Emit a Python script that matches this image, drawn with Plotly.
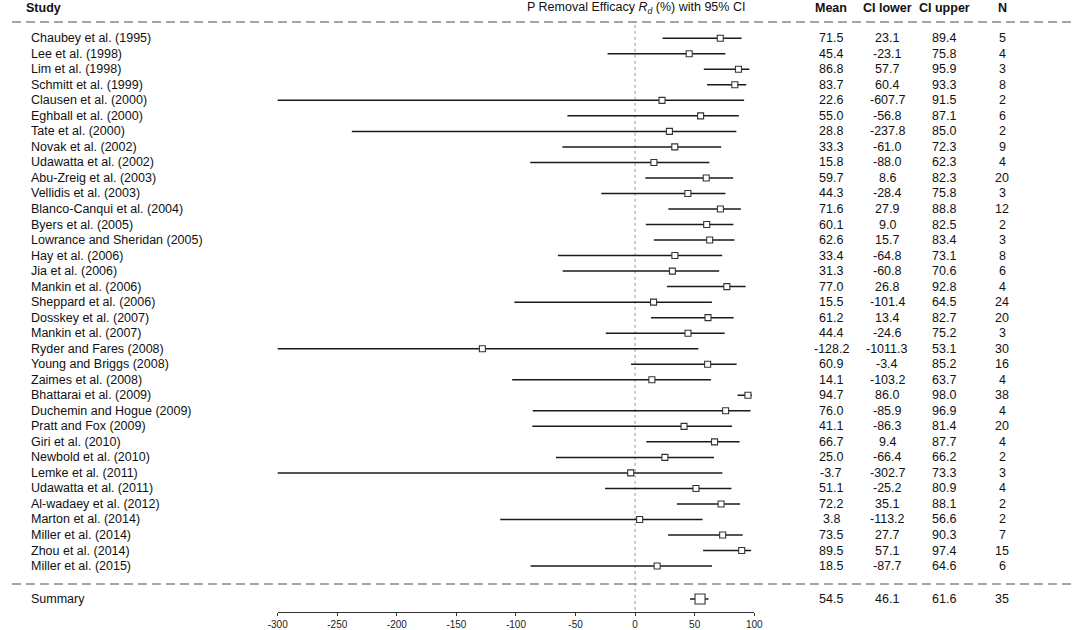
import plotly.graph_objects as go

# Data
studies = [
    "Chaubey et al. (1995)", "Lee et al. (1998)", "Lim et al. (1998)", "Schmitt et al. (1999)",
    "Clausen et al. (2000)", "Eghball et al. (2000)", "Tate et al. (2000)", "Novak et al. (2002)",
    "Udawatta et al. (2002)", "Abu-Zreig et al. (2003)", "Vellidis et al. (2003)",
    "Blanco-Canqui et al. (2004)", "Byers et al. (2005)", "Lowrance and Sheridan (2005)",
    "Hay et al. (2006)", "Jia et al. (2006)", "Mankin et al. (2006)", "Sheppard et al. (2006)",
    "Dosskey et al. (2007)", "Mankin et al. (2007)", "Ryder and Fares (2008)",
    "Young and Briggs (2008)", "Zaimes et al. (2008)", "Bhattarai et al. (2009)",
    "Duchemin and Hogue (2009)", "Pratt and Fox (2009)", "Giri et al. (2010)",
    "Newbold et al. (2010)", "Lemke et al. (2011)", "Udawatta et al. (2011)",
    "Al-wadaey et al. (2012)", "Marton et al. (2014)", "Miller et al. (2014)",
    "Zhou et al. (2014)", "Miller et al. (2015)",
]
mean = [71.5, 45.4, 86.8, 83.7, 22.6, 55.0, 28.8, 33.3, 15.8, 59.7, 44.3, 71.6, 60.1, 62.6,
        33.4, 31.3, 77.0, 15.5, 61.2, 44.4, -128.2, 60.9, 14.1, 94.7, 76.0, 41.1, 66.7,
        25.0, -3.7, 51.1, 72.2, 3.8, 73.5, 89.5, 18.5]
ci_lower = [23.1, -23.1, 57.7, 60.4, -607.7, -56.8, -237.8, -61.0, -88.0, 8.6, -28.4, 27.9,
            9.0, 15.7, -64.8, -60.8, 26.8, -101.4, 13.4, -24.6, -1011.3, -3.4, -103.2, 86.0,
            -85.9, -86.3, 9.4, -66.4, -302.7, -25.2, 35.1, -113.2, 27.7, 57.1, -87.7]
ci_upper = [89.4, 75.8, 95.9, 93.3, 91.5, 87.1, 85.0, 72.3, 62.3, 82.3, 75.8, 88.8, 82.5,
            83.4, 73.1, 70.6, 92.8, 64.5, 82.7, 75.2, 53.1, 85.2, 63.7, 98.0, 96.9, 81.4,
            87.7, 66.2, 73.3, 80.9, 88.1, 56.6, 90.3, 97.4, 64.6]
n_obs = [5, 4, 3, 8, 2, 6, 2, 9, 4, 20, 3, 12, 2, 3, 8, 6, 4, 24, 20, 3, 30, 16, 4, 38, 4,
         20, 4, 2, 3, 4, 2, 2, 7, 15, 6]

summary = {"label": "Summary", "mean": 54.5, "lower": 46.1, "upper": 61.6, "n": 35}

x_ticks = [-300, -250, -200, -150, -100, -50, 0, 50, 100]

# Layout helpers (pixel based)
W, H = 1084, 630
FONT = "Arial, Liberation Sans, sans-serif"
TXT = "#111111"
rows = list(range(len(studies)))
summary_y = 36.12
header_y = -1.95
y_bottom = 36.96  # axis line sits at ~614px
col_x = {"mean": 836, "lower": 893, "upper": 951, "n": 1010}


def px(x):
    return x / W


fig = go.Figure()

# CI lines
xs, ys = [], []
for i in rows:
    xs += [ci_lower[i], ci_upper[i], None]
    ys += [i, i, None]
fig.add_trace(go.Scatter(x=xs, y=ys, mode="lines",
                         line=dict(color="#1a1a1a", width=1.5), hoverinfo="skip"))
fig.add_trace(go.Scatter(x=[summary["lower"], summary["upper"]], y=[summary_y, summary_y],
                         mode="lines", line=dict(color="#1a1a1a", width=1.5), hoverinfo="skip"))

# point estimates
fig.add_trace(go.Scatter(x=mean, y=rows, mode="markers",
                         marker=dict(symbol="square", size=6, color="white",
                                     line=dict(color="#333333", width=1.1))))
fig.add_trace(go.Scatter(x=[summary["mean"]], y=[summary_y], mode="markers",
                         marker=dict(symbol="square", size=10, color="white",
                                     line=dict(color="#333333", width=1.1))))

# zero reference line
fig.add_shape(type="line", xref="x", yref="y", x0=0, x1=0, y0=-0.86, y1=y_bottom,
              line=dict(color="#999999", width=1, dash="dot"), layer="below")

# dashed separators
for yy in [-1.05, 35.16]:
    fig.add_shape(type="line", xref="paper", yref="y", x0=px(2), x1=1, y0=yy, y1=yy,
                  line=dict(color="#888888", width=1.5, dash="9px,5px"))

ann = []


def txt(x, y, s, anchor="center", bold=False):
    ann.append(dict(x=px(x), y=y, xref="paper", yref="y", text=f"<b>{s}</b>" if bold else s,
                    showarrow=False, xanchor=anchor, yanchor="middle",
                    font=dict(family=FONT, size=12.5, color=TXT)))


# headers
txt(14, header_y, "Study", "left", True)
txt(637, header_y, "P Removal Efficacy <i>R<sub>d</sub></i> (%) with 95% CI")
txt(col_x["mean"], header_y, "Mean", bold=True)
txt(col_x["lower"], header_y, "CI lower", bold=True)
txt(col_x["upper"], header_y, "CI upper", bold=True)
txt(col_x["n"], header_y, "N", bold=True)

# table rows
for i in rows:
    txt(19, i, studies[i], "left")
    txt(col_x["mean"], i, f"{mean[i]:.1f}")
    txt(col_x["lower"], i, f"{ci_lower[i]:.1f}")
    txt(col_x["upper"], i, f"{ci_upper[i]:.1f}")
    txt(col_x["n"], i, str(n_obs[i]))

txt(19, summary_y, summary["label"], "left")
txt(col_x["mean"], summary_y, f"{summary['mean']:.1f}")
txt(col_x["lower"], summary_y, f"{summary['lower']:.1f}")
txt(col_x["upper"], summary_y, f"{summary['upper']:.1f}")
txt(col_x["n"], summary_y, str(summary["n"]))

fig.update_layout(
    width=W, height=H,
    margin=dict(l=0, r=0, t=0, b=16),
    paper_bgcolor="white", plot_bgcolor="white",
    showlegend=False,
    annotations=ann,
    font=dict(family=FONT, color=TXT),
    xaxis=dict(domain=[px(272.5), px(757.5)], range=[-300, 100], tickvals=x_ticks,
               ticktext=[str(v) for v in x_ticks],  # plain hyphen, like the source
               showgrid=False, zeroline=False, showline=True, linecolor="#333333",
               linewidth=1, ticks="outside", ticklen=3, tickcolor="#333333",
               tickfont=dict(family=FONT, size=10, color="#222222")),
    yaxis=dict(range=[y_bottom, -2.463], visible=False, showgrid=False, zeroline=False),
)

# drop the default 8px page margin so the figure sits at the window's top-left corner
fig.write_html("out.html", config={"displayModeBar": False},
               post_script="document.body.style.margin='0';")
